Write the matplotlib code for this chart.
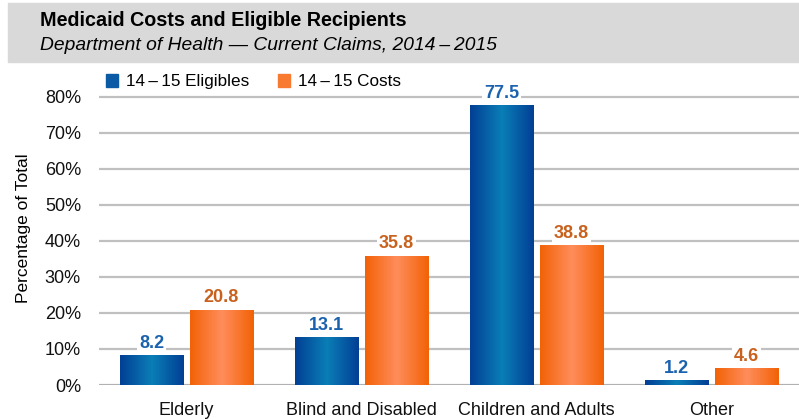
import numpy as np
import matplotlib.pyplot as plt
from matplotlib.colors import LinearSegmentedColormap
from matplotlib.patches import Rectangle

plt.rcParams['font.family'] = ['Liberation Sans', 'DejaVu Sans']

categories = ["Elderly", "Blind and Disabled", "Children and Adults", "Other"]
eligibles = [8.2, 13.1, 77.5, 1.2]
costs = [20.8, 35.8, 38.8, 4.6]
series_names = ["14\u2009\u2013\u200915 Eligibles", "14\u2009\u2013\u200915 Costs"]
yticks = [0, 10, 20, 30, 40, 50, 60, 70, 80]

blue_cmap = LinearSegmentedColormap.from_list("blue", ["#023f95", "#0a7fb6", "#023f95"])
orange_cmap = LinearSegmentedColormap.from_list("orange", ["#f26205", "#ff8d5c", "#f26205"])
blue_text = "#1b62ae"
orange_text = "#c8611d"

fig = plt.figure(figsize=(7.99, 4.2), dpi=100)

# header band with title
fig.patches.append(Rectangle((8 / 799, 1 - 62 / 420), 1, 59 / 420,
                             transform=fig.transFigure, color="#d9d9d9", zorder=0))
fig.text(40 / 799, 1 - 20 / 420, "Medicaid Costs and Eligible Recipients",
         fontsize=14.2, fontweight="bold", va="center", ha="left")
fig.text(40 / 799, 1 - 45 / 420,
         "Department of Health \u2014 Current Claims, 2014\u2009\u2013\u20092015",
         fontsize=13.9, style="italic", va="center", ha="left")

ax = fig.add_axes([99 / 799, 35 / 420, 700 / 799, 314 / 420])
x = np.arange(len(categories))
width = 0.365
offset = 0.2

grad = np.linspace(0, 1, 256).reshape(1, -1)


def gradient_bar(ax, xc, h, cmap):
    im = ax.imshow(grad, cmap=cmap, aspect="auto", zorder=3,
                   extent=(xc - width / 2, xc + width / 2, 0, h))
    return im


for i in range(len(categories)):
    gradient_bar(ax, x[i] - offset, eligibles[i], blue_cmap)
    gradient_bar(ax, x[i] + offset, costs[i], orange_cmap)
    ax.text(x[i] - offset, eligibles[i] + 1.0, "%.1f" % eligibles[i], ha="center", va="bottom",
            color=blue_text, fontsize=13, fontweight="bold", zorder=4,
            bbox=dict(facecolor="white", edgecolor="none", pad=1))
    ax.text(x[i] + offset, costs[i] + 1.0, "%.1f" % costs[i], ha="center", va="bottom",
            color=orange_text, fontsize=13, fontweight="bold", zorder=4,
            bbox=dict(facecolor="white", edgecolor="none", pad=1))

ax.set_xlim(-0.5, 3.5)
ax.set_ylim(0, 87.2)
ax.set_yticks(yticks)
ax.set_yticklabels(["%d%%" % t for t in yticks], fontsize=13)
ax.set_xticks(x)
ax.set_xticklabels(categories, fontsize=13)
ax.tick_params(axis="both", length=0, colors="#111111")
ax.tick_params(axis="y", pad=13)
ax.tick_params(axis="x", pad=12)
ax.yaxis.grid(True, color="#c0c0c0", linewidth=1.6, zorder=1)
ax.set_axisbelow(True)
for s in ax.spines.values():
    s.set_visible(False)
ax.axhline(0, color="#b0b0b0", linewidth=2, zorder=2)
ax.set_ylabel("Percentage of Total", fontsize=12.5, labelpad=10)

# legend
handles = [Rectangle((0, 0), 1, 1, color="#0a5aa5"), Rectangle((0, 0), 1, 1, color="#f77a30")]
ax.legend(handles, series_names, loc="upper left", bbox_to_anchor=(-0.012, 1.04), ncol=2,
          frameon=False, fontsize=12.3, handlelength=0.7, handleheight=0.8,
          handletextpad=0.45, columnspacing=1.7)

fig.savefig("out.png", dpi=100)
